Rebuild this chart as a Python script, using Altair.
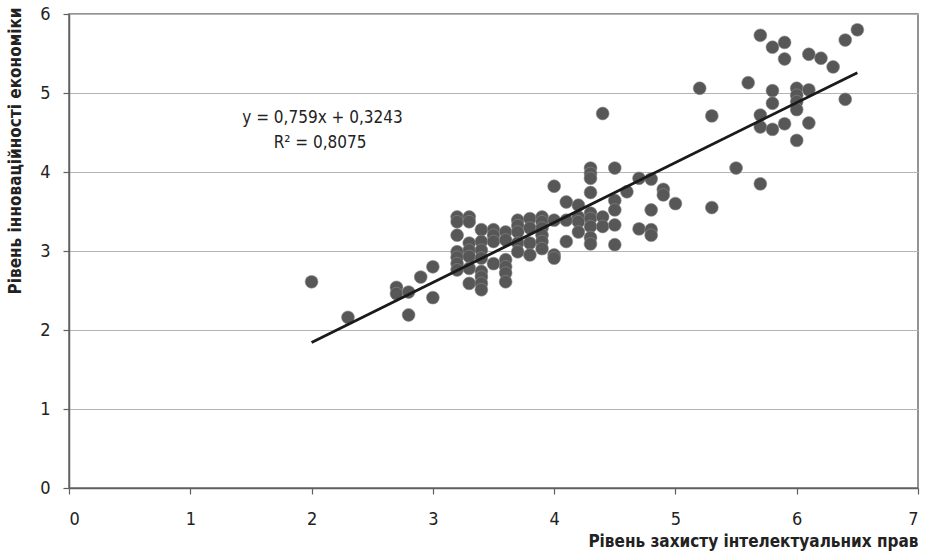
import altair as alt
import pandas as pd

# --- data ---
x_vals = [
    2.0,
    2.3,
    2.7, 2.7,
    2.8, 2.8,
    2.9,
    3.0, 3.0,
    3.2, 3.2, 3.2, 3.2, 3.2, 3.2, 3.2,
    3.3, 3.3, 3.3, 3.3, 3.3, 3.3, 3.3,
    3.4, 3.4, 3.4, 3.4, 3.4, 3.4, 3.4, 3.4,
    3.5, 3.5, 3.5, 3.5,
    3.6, 3.6, 3.6, 3.6, 3.6, 3.6,
    3.7, 3.7, 3.7, 3.7, 3.7,
    3.8, 3.8, 3.8, 3.8,
    3.9, 3.9, 3.9, 3.9, 3.9, 3.9,
    4.0, 4.0, 4.0, 4.0,
    4.1, 4.1, 4.1,
    4.2, 4.2, 4.2, 4.2,
    4.3, 4.3, 4.3, 4.3, 4.3, 4.3, 4.3, 4.3, 4.3,
    4.4, 4.4, 4.4,
    4.5, 4.5, 4.5, 4.5, 4.5,
    4.6,
    4.7, 4.7,
    4.8, 4.8, 4.8, 4.8,
    4.9, 4.9,
    5.0,
    5.2,
    5.3, 5.3,
    5.5,
    5.6,
    5.7, 5.7, 5.7, 5.7,
    5.8, 5.8, 5.8, 5.8,
    5.9, 5.9, 5.9,
    6.0, 6.0, 6.0, 6.0, 6.0,
    6.1, 6.1, 6.1,
    6.2,
    6.3,
    6.4, 6.4,
    6.5,
]
y_vals = [
    2.61,
    2.16,
    2.54, 2.46,
    2.48, 2.19,
    2.67,
    2.80, 2.41,
    3.43, 3.37, 3.20, 2.99, 2.92, 2.84, 2.76,
    3.43, 3.37, 3.10, 3.01, 2.93, 2.78, 2.59,
    3.27, 3.12, 3.01, 2.91, 2.74, 2.67, 2.59, 2.51,
    3.27, 3.20, 3.12, 2.84,
    3.24, 3.14, 2.89, 2.80, 2.72, 2.61,
    3.39, 3.32, 3.24, 3.10, 2.99,
    3.41, 3.29, 3.10, 2.95,
    3.43, 3.37, 3.29, 3.20, 3.12, 3.03,
    3.82, 3.39, 2.95, 2.91,
    3.62, 3.39, 3.12,
    3.58, 3.43, 3.37, 3.24,
    4.05, 3.98, 3.92, 3.74, 3.48, 3.41, 3.31, 3.17, 3.09,
    4.74, 3.43, 3.31,
    4.05, 3.64, 3.52, 3.33, 3.08,
    3.75,
    3.92, 3.28,
    3.91, 3.52, 3.27, 3.20,
    3.78, 3.71,
    3.60,
    5.06,
    4.71, 3.55,
    4.05,
    5.13,
    5.73, 4.72, 4.57, 3.85,
    5.58, 5.03, 4.87, 4.54,
    5.64, 5.43, 4.61,
    5.06, 4.97, 4.89, 4.79, 4.40,
    5.49, 5.04, 4.62,
    5.44,
    5.33,
    5.67, 4.92,
    5.80,
]

# trend line as stated in the chart
slope = 0.759
intercept = 0.3243
trend_x = [min(x_vals), max(x_vals)]

eq_lines = ["y = 0,759x + 0,3243", "R² = 0,8075"]
eq_x = [2.09, 2.07]
eq_y = [4.68, 4.37]

x_ticks = [0, 1, 2, 3, 4, 5, 6, 7]
y_ticks = [0, 1, 2, 3, 4, 5, 6]
x_title = "Рівень захисту інтелектуальних прав"
y_title = "Рівень інноваційності економіки"

FONT = "Liberation Sans Narrow, DejaVu Sans Condensed, sans-serif"

pts = pd.DataFrame({"x": x_vals, "y": y_vals})
trend = pd.DataFrame({"x": trend_x, "y": [slope * v + intercept for v in trend_x]})
ann = pd.DataFrame({"x": eq_x, "y": eq_y, "t": eq_lines})

xs = alt.Scale(domain=[0, 7], nice=False, zero=False)
ys = alt.Scale(domain=[0, 6], nice=False, zero=False)

x_axis = alt.Axis(
    values=x_ticks, grid=False, title=x_title, format="d",
    titleAnchor="end", titleAlign="right", titleX=849, titleY=53,
    titleBaseline="middle",
    tickSize=6, labelPadding=16,
)
y_axis = alt.Axis(
    values=y_ticks, grid=True, title=y_title, format="d",
    titleAngle=-90, titleAlign="right", titleX=-54, titleY=-7,
    titleBaseline="middle",
    tickSize=6, labelPadding=13,
)

points = alt.Chart(pts).mark_point(
    shape="circle", filled=True, size=165, color="#575757",
    stroke="#8a8a8a", strokeWidth=0.6, opacity=1,
).encode(
    x=alt.X("x:Q", scale=xs, axis=x_axis),
    y=alt.Y("y:Q", scale=ys, axis=y_axis),
)

line = alt.Chart(trend).mark_line(color="#1a1a1a", strokeWidth=2.8).encode(
    x=alt.X("x:Q", scale=xs),
    y=alt.Y("y:Q", scale=ys),
)

text = alt.Chart(ann).mark_text(
    font=FONT, fontSize=17, color="#222222", align="center", baseline="middle",
).encode(
    x=alt.X("x:Q", scale=xs),
    y=alt.Y("y:Q", scale=ys),
    text="t:N",
)

chart = alt.layer(points, line, text).properties(
    width=849, height=474,
    autosize=alt.AutoSizeParams(type="none"),
    padding={"left": 69, "top": 14, "right": 13, "bottom": 67},
    background="white",
).configure_view(
    stroke="#707070", strokeWidth=1.5,
).configure_axis(
    labelFont=FONT, labelFontSize=18, labelColor="#222222",
    titleFont=FONT, titleFontSize=17, titleFontWeight="bold", titleColor="#222222",
    domainColor="#606060", domainWidth=1.5,
    tickColor="#606060", tickWidth=1.2,
    gridColor="#b4b4b4", gridWidth=1,
)

chart.save("out.html", embed_options={"renderer": "svg", "actions": False})
